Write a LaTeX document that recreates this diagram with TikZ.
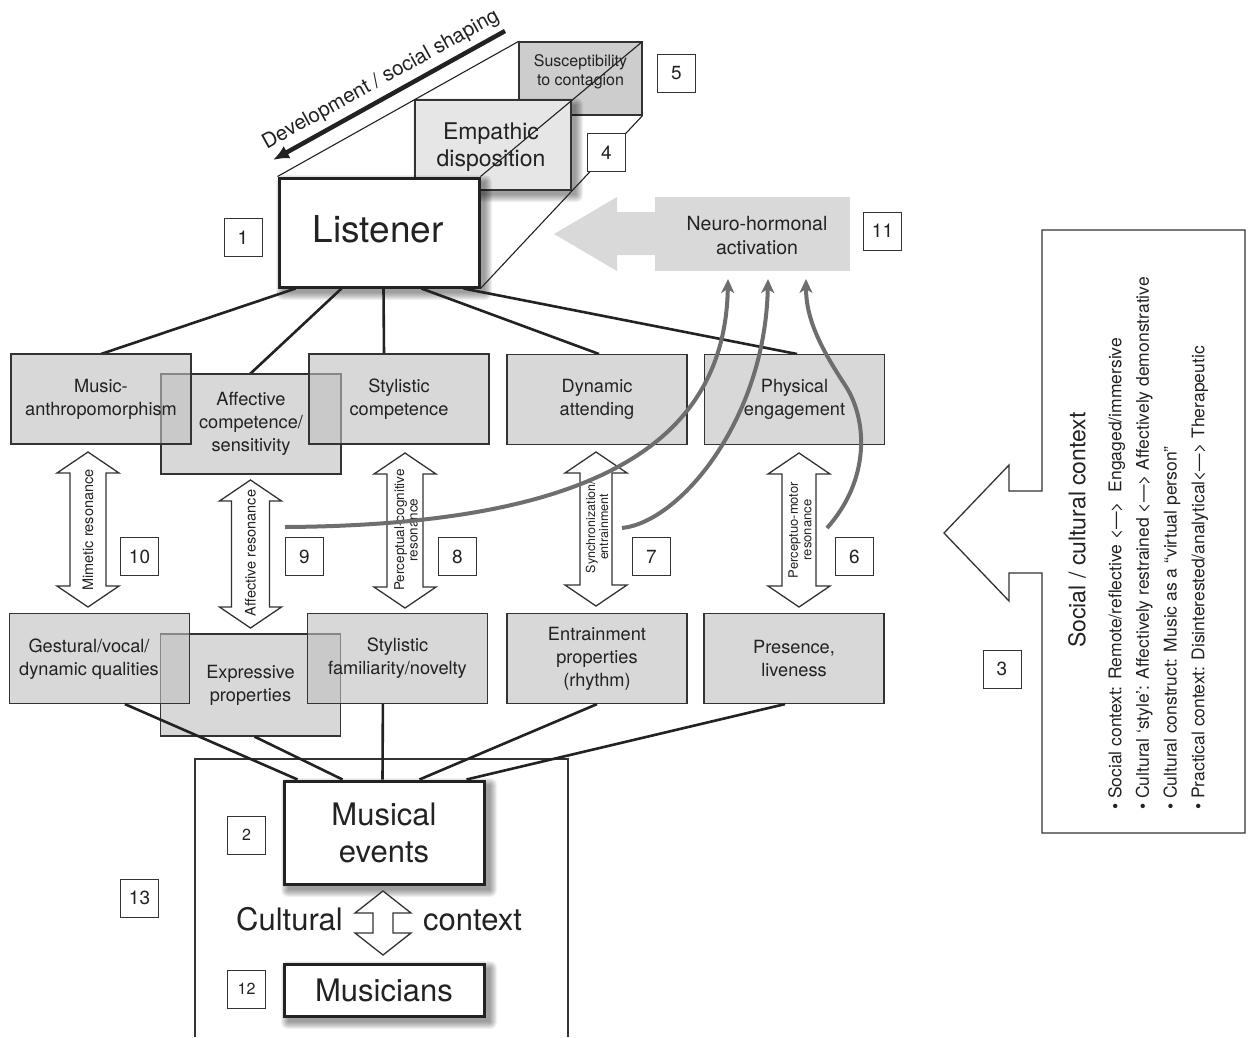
\documentclass[tikz,border=0pt]{standalone}
\usepackage{fontspec}
\setmainfont{TeX Gyre Heros}
\usetikzlibrary{arrows.meta,calc}
\definecolor{ink}{HTML}{222222}
\definecolor{edge}{HTML}{333333}
\definecolor{curvecol}{HTML}{6E6E6E}
\definecolor{neurofill}{HTML}{D9D9D9}
\definecolor{empfill}{HTML}{E6E6E6}
\definecolor{susfill}{HTML}{CDCDCD}
\newcommand\fs[2]{\fontsize{#1}{#2}\selectfont}
\newcommand\softshadow[4]{%
  \foreach \i in {0,...,7}{%
    \fill[black, opacity=0.055, rounded corners=\i pt] ({#1+5-\i},{#2+5-\i}) rectangle ({#3+5+\i},{#4+5+\i});
  }%
}
\newcommand\dblarrow[4]{%
  \draw[arrowline] ({#1},{#2}) -- ({#1+31},{#2+21}) -- ({#1+#4},{#2+21}) -- ({#1+#4},{#3-21}) -- ({#1+31},{#3-21}) -- ({#1},{#3}) -- ({#1-31},{#3-21}) -- ({#1-#4},{#3-21}) -- ({#1-#4},{#2+21}) -- ({#1-31},{#2+21}) -- cycle;
}
\tikzset{
  gbox/.style={draw=edge, line width=1.2pt, fill=black!25, fill opacity=0.6, draw opacity=1, text opacity=1,
    minimum width=180pt, minimum height=90pt, inner sep=0pt, font=\fs{18.2}{23}, align=center, text=ink},
  numbox/.style={draw=edge, line width=1pt, fill=white, minimum width=38pt, minimum height=38pt, inner sep=0pt,
    font=\fs{19}{20}, text=ink},
  conn/.style={draw=ink, line width=2.6pt},
  thinline/.style={draw=ink, line width=1.1pt},
  arrowline/.style={draw=edge, fill=white, line width=1.3pt, line join=miter},
  arrowtext/.style={rotate=90, font=\fs{14.5}{15}, text=ink, inner sep=0pt},
  arrowtexttwo/.style={rotate=90, font=\fs{13.5}{13.5}, text=ink, inner sep=0pt, align=center},
  grayflow/.style={draw=curvecol, line width=4pt, -{Stealth[length=14pt,width=13pt,inset=4pt]}},
  bigbox/.style={draw=ink, line width=3pt, fill=white, text=ink, align=center, inner sep=0pt},
}
\begin{document}
\begin{tikzpicture}[x=1pt,y=-1pt]
\fill[white] (0,0) rectangle (1251,1037);
\useasboundingbox (0,0) rectangle (1251,1037);

% ---------- stacked listener boxes ----------
\node[draw=edge, line width=1.1pt, fill=susfill, minimum width=123pt, minimum height=73pt, inner sep=0pt] (susc) at (580.5,78.5) {};
\node[font=\fs{16}{18.5}, text=ink, align=center] (susctxt) at (580.5,72) {Susceptibility\\to contagion};
\node[numbox] (n5) at (676.5,73.5) {5};
\softshadow{415}{100}{571}{190}
\node[draw=edge, line width=1.1pt, fill=empfill, minimum width=156pt, minimum height=90pt, inner sep=0pt] (empath) at (493,145) {};
\node[font=\fs{23}{27}, text=ink, align=center] (emptxt) at (491,147) {Empathic\\disposition};
\softshadow{278}{177}{480}{288}
\node[bigbox, minimum width=200pt, minimum height=109pt] (listener) at (379,232.5) {};
\node[font=\fs{37}{40}, text=ink] (listtxt) at (378,229.5) {Listener};
\draw[thinline] (listener.north west) -- (susc.north west);
\draw[thinline] (listener.north east) -- (susc.north east);
\draw[thinline] (listener.south east) -- (susc.south east);
\node[numbox] (n4) at (606.5,152.5) {4};
\node[numbox] (n1) at (243,237.5) {1};

% development arrow
\coordinate (devA) at (505,31);
\coordinate (devB) at (273,160);
\draw[draw=ink, line width=4.5pt, -{Latex[length=16pt,width=14pt]}] (devA) -- (devB);
\node[rotate=29, font=\fs{20.5}{22}, text=ink] (devtxt) at (381,80) {Development / social shaping};

% ---------- neuro-hormonal ----------
\fill[neurofill] (655,212) -- (617,212) -- (617,197) -- (554,234) -- (617,271) -- (617,255) -- (655,255) -- cycle;
\node[fill=neurofill, minimum width=195pt, minimum height=74pt, inner sep=0pt] (neuro) at (752.5,234) {};
\node[font=\fs{19.5}{24}, text=ink, align=center] (neurotxt) at (757,236) {Neuro-hormonal\\activation};
\node[numbox] (n11) at (882.5,231) {11};

% ---------- social / cultural context ----------
\draw[draw=edge, line width=1.3pt, line join=miter] (1042,230) -- (1245,230) -- (1245,833) -- (1042,833) -- (1042,573)
  -- (1009,573) -- (1009,601) -- (944,533) -- (1009,465) -- (1009,491) -- (1042,491) -- cycle;
\node[rotate=90, font=\fs{23}{25}, text=ink] (ctxtitle) at (1077,530) {Social / cultural context};
\node[rotate=90, anchor=north west, inner sep=0pt, align=left, font=\fs{17.5}{27.7}, text=ink] (ctxlist) at (1108,810)
  {• Social context: Remote/reflective <\textemdash>\ \ Engaged/immersive\\
   • Cultural `style': Affectively restrained <\textemdash> Affectively demonstrative\\
   • Cultural construct: Music as a ``virtual person''\\
   • Practical context: Disinterested/analytical<\textemdash> Therapeutic};
\node[numbox] (n3) at (1002,669) {3};

% ---------- top row boxes ----------
\draw[conn] ([xshift=18pt]listener.south west) -- (101,354);
\draw[conn] ([xshift=64pt]listener.south west) -- (250,374);
\draw[conn] ([xshift=106pt]listener.south west) -- (384,354);
\draw[conn] ([xshift=144pt]listener.south west) -- (599,354);
\draw[conn] ([xshift=186pt]listener.south west) -- (797,354);
\node[gbox, minimum height=100pt] (affc) at (251,424) {Affective\\competence/\\sensitivity};
\node[gbox] (music) at (101,399) {Music-\\anthropomorphism};
\node[gbox] (stylc) at (399,399) {Stylistic\\competence};
\node[gbox] (dyn) at (597,399.5) {Dynamic\\attending};
\node[gbox] (phys) at (794.5,399.5) {Physical\\engagement};

% ---------- resonance arrows ----------
\dblarrow{88}{452}{607}{18}
\node[arrowtext] (mimt) at (88,530) {Mimetic resonance};
\dblarrow{250.5}{480}{628}{19}
\node[arrowtext] (afft) at (250.5,553) {Affective resonance};
\dblarrow{405}{453}{608}{18}
\node[arrowtexttwo] (perct) at (406,530) {Perceptual-cognitive\\resonance};
\dblarrow{596}{452}{606}{16}
\node[arrowtexttwo, font=\fs{12.5}{13}] (synt) at (597,527) {Synchronization/\\entrainment};
\dblarrow{799}{453}{607}{17}
\node[arrowtexttwo, font=\fs{13}{13.5}] (pmt) at (800,530) {Perceptuo-motor\\resonance};
\node[numbox] (n10) at (139.5,556.5) {10};
\node[numbox] (n9) at (304.5,556.5) {9};
\node[numbox] (n8) at (457.5,556.5) {8};
\node[numbox] (n7) at (651.5,556.5) {7};
\node[numbox] (n6) at (854.5,556.5) {6};

% ---------- bottom row boxes ----------
\node[gbox, minimum height=102pt] (expr) at (250.5,685) {Expressive\\properties};
\node[gbox] (gest) at (99.5,658.5) {};
\node[font=\fs{18.2}{23}, align=center, text=ink] (gesttxt) at (89,659) {Gestural/vocal/\\dynamic qualities};
\node[gbox] (sfam) at (397.5,658.5) {Stylistic\\familiarity/novelty};
\node[gbox] (entr) at (597,658.5) {Entrainment\\properties\\(rhythm)};
\node[gbox] (pres) at (794,658.5) {Presence,\\liveness};

% ---------- musical events ----------
\draw[draw=edge, line width=1.2pt] (195,1037) -- (195,759) -- (568,759) -- (568,1037);
\softshadow{283}{780}{485}{885}
\node[bigbox, minimum width=200pt, minimum height=103pt, font=\fs{31}{37}] (events) at (384,832.5) {Musical\\events};
\softshadow{283}{963}{485}{1017}
\node[bigbox, minimum width=200pt, minimum height=52pt, font=\fs{31}{34}] (musicians) at (384,990) {Musicians};
\draw[conn] ([xshift=116pt]gest.south west) -- ([xshift=15pt]events.north west);
\draw[conn] ([xshift=4pt]expr.south) -- ([xshift=60pt]events.north west);
\draw[conn] ([xshift=76pt]sfam.south west) -- ([xshift=100pt]events.north west);
\draw[conn] (entr.south) -- ([xshift=137pt]events.north west);
\draw[conn] ([xshift=-9pt]pres.south) -- ([xshift=184pt]events.north west);
\draw[arrowline] (383,891) -- (411,913) -- (393,913) -- (393,933) -- (411,933) -- (383,955) -- (355,933) -- (373,933) -- (373,913) -- (355,913) -- cycle;
\node[font=\fs{31}{34}, text=ink, anchor=base east, inner sep=0pt] (cult) at (343,930) {Cultural};
\node[font=\fs{31}{34}, text=ink, anchor=base west, inner sep=0pt] (cctx) at (423,930) {context};
\node[numbox, font=\fs{16}{18}] (n2) at (246.5,835) {2};
\node[numbox, font=\fs{16}{18}] (n12) at (246.5,989) {12};
\node[numbox] (n13) at (139.5,898) {13};

% ---------- gray activation curves ----------
\coordinate (c1s) at (285,527);
\coordinate (c1e) at (728,279);
\coordinate (c2s) at (622,528);
\coordinate (c2e) at (768,279);
\coordinate (c3s) at (827,528);
\coordinate (c3e) at (806,279);
\draw[grayflow] (c1s) .. controls (600,525) and (725,440) .. (c1e);
\draw[grayflow] (c2s) .. controls (680,522) and (765,420) .. (c2e);
\draw[grayflow] (c3s) .. controls (870,480) and (868,420) .. (845,385) .. controls (822,350) and (806,320) .. (c3e);
\end{tikzpicture}
\end{document}
